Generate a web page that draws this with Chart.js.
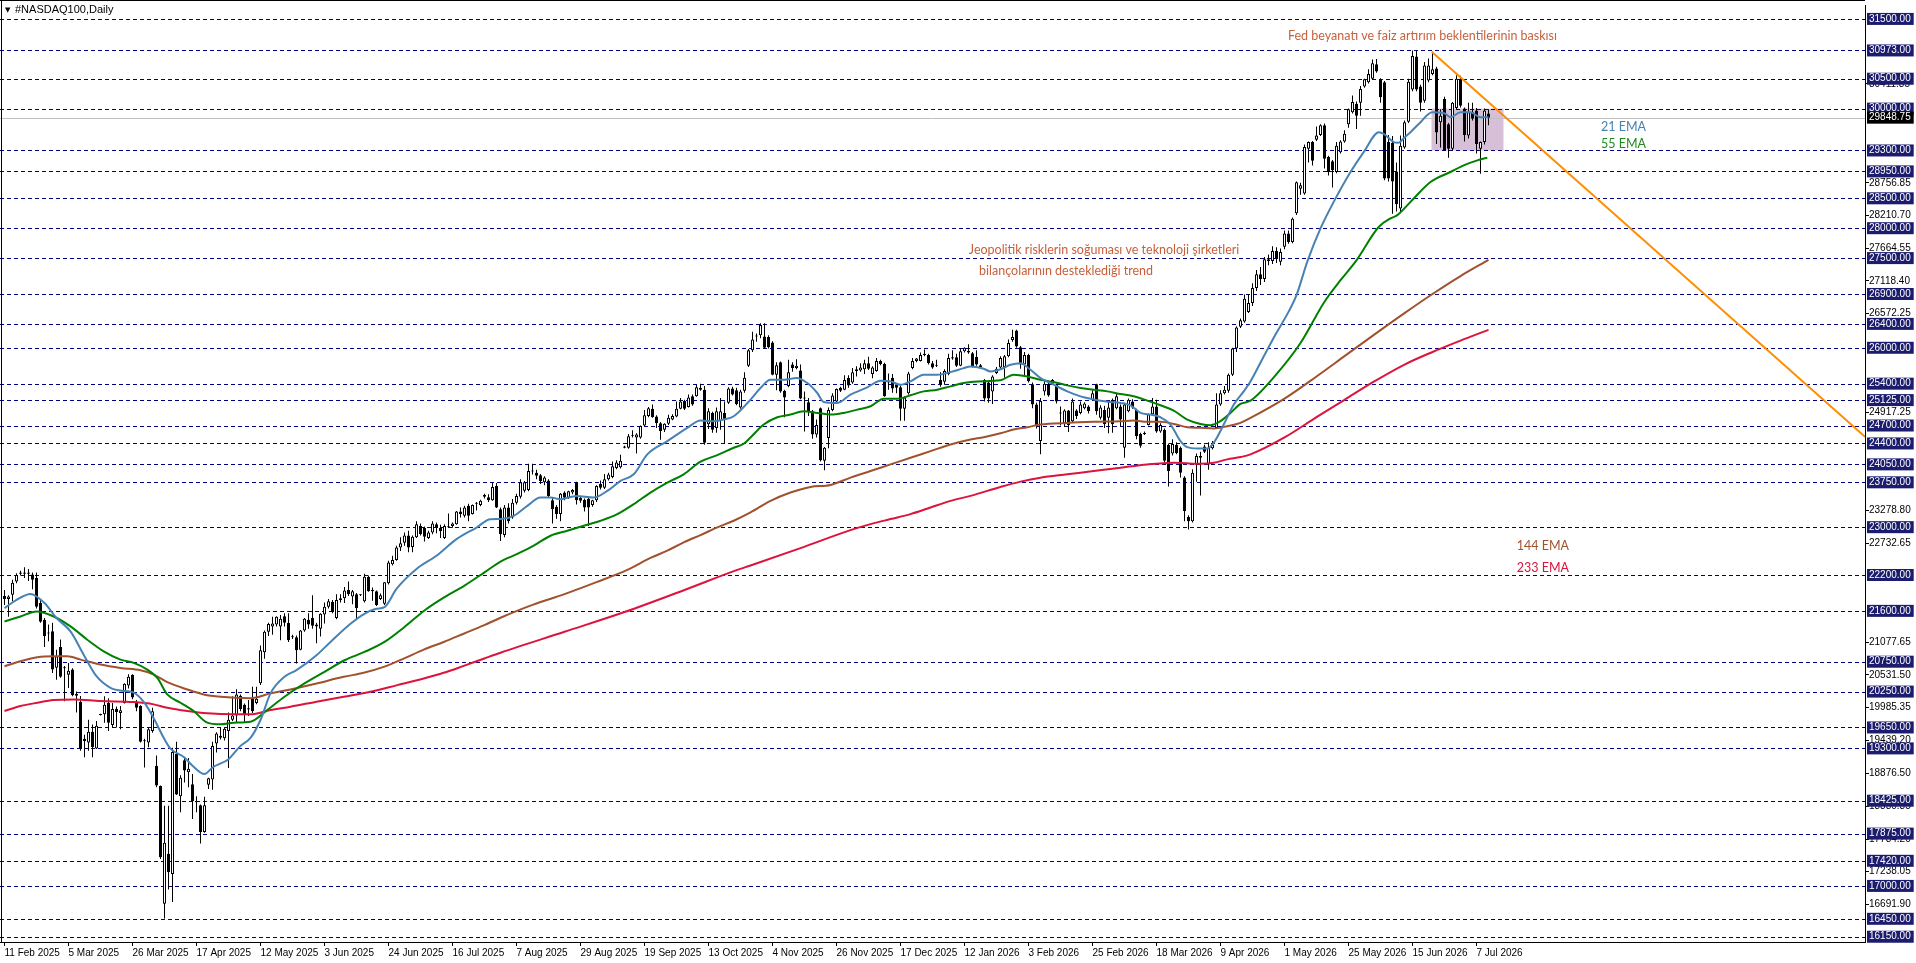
<!DOCTYPE html>
<html>
<head>
<meta charset="utf-8">
<title>#NASDAQ100,Daily</title>
<script src="https://cdn.jsdelivr.net/npm/chart.js@4.4.1/dist/chart.umd.min.js"></script>
<style>
  html, body { margin: 0; padding: 0; background: #fff; overflow: hidden; }
  #wrap { width: 1916px; height: 963px; position: relative; }
</style>
</head>
<body>
<div id="wrap"><canvas id="chart"></canvas></div>
<script>
// daily candles, bar 0 = 11 Feb 2025
const opens = [
  21850, 21800, 21870, 22090, 22220, 22240, 22220, 22210, 22150, 21730,
  21450, 21220, 21260, 20650, 20995, 20650, 20530, 20620, 20210, 20080,
  19460, 19400, 19580, 19300, 19860, 19870, 20060, 19690, 19960, 19890,
  20060, 20350, 20530, 20060, 20010, 19420, 19400, 19590, 19010, 18670,
  16700, 17540, 17200, 19210, 18500, 19100, 18900, 18700, 18420, 18350,
  17900, 18690, 18780, 19380, 19510, 19470, 19590, 19780, 19850, 20180,
  20030, 19950, 20140, 20060, 20390, 20910, 21250, 21340, 21370, 21340,
  21510, 21400, 21160, 21160, 20950, 21270, 21450, 21480, 21340, 21300,
  21540, 21670, 21750, 21480, 21780, 21810, 21950, 21840, 21880, 21860,
  21760, 22170, 21950, 21930, 21800, 21720, 22060, 22380, 22450, 22660,
  22740, 22860, 22670, 22830, 23020, 22990, 22820, 22910, 23050, 22990,
  22820, 23000, 23020, 23050, 23260, 23190, 23360, 23220, 23390, 23370,
  23540, 23500, 23450, 23690, 23300, 22870, 23330, 23160, 23410, 23510,
  23610, 23620, 23930, 23910, 23870, 23750, 23780, 23450, 23340, 23220,
  23580, 23490, 23580, 23740, 23490, 23460, 23470, 23370, 23450, 23720,
  23660, 23800, 23840, 23990, 24000, 24330, 24330, 24520, 24500, 24500,
  24700, 24860, 24980, 24850, 24740, 24630, 24730, 24800, 24850, 24980,
  25110, 25010, 25190, 25190, 25300, 25300, 24720, 24910, 24660, 24770,
  24910, 25080, 25320, 25290, 25000, 25280, 25700, 25960, 26200, 26210,
  26190, 26180, 26090, 25550, 25760, 25280, 25360, 25720, 25660, 25620,
  25150, 25090, 24940, 24550, 24990, 24110, 24490, 24960, 25100, 25330,
  25300, 25500, 25420, 25610, 25620, 25640, 25740, 25560, 25610, 25780,
  25730, 25440, 25500, 25390, 25340, 24980, 25240, 25660, 25780, 25780,
  25880, 25880, 25740, 25700, 25460, 25430, 25560, 25820, 25840, 25700,
  25940, 25950, 25910, 25850, 25680, 25460, 25420, 25270, 25580, 25670,
  25680, 25860, 26130, 26290, 26010, 25720, 25880, 25390, 25050, 24440,
  25270, 25400, 25400, 25380, 24900, 24740, 24950, 24770, 24950, 24910,
  24990, 25020, 25130, 25390, 24830, 24960, 24830, 25130, 24990, 25020,
  24330, 24940, 25100, 24960, 24560, 24560, 24710, 24890, 25020, 24600,
  24630, 24380, 24230, 24380, 24330, 23830, 23170, 23100, 24050, 24160,
  24350, 24050, 24320, 24660, 25050, 25240, 25280, 25550, 25990, 26350,
  26440, 26600, 26750, 27000, 27230, 27150, 27480, 27450, 27620, 27440,
  27690, 27910, 27770, 28250, 28660, 28580, 29330, 29440, 29480, 29560,
  29720, 29190, 29120, 28940, 29270, 29450, 29740, 29940, 30080, 30100,
  30370, 30440, 30500, 30740, 30490, 30440, 29440, 29430, 28950, 28330,
  29350, 29780, 30320, 30870, 30370, 30130, 30470, 30580, 30670, 29770,
  30160, 29740, 29330, 30010, 30500, 30000, 29550, 29940, 29970, 29330,
  29440, 29920
];
const highs = [
  21950, 21860, 22120, 22230, 22270, 22330, 22300, 22240, 22240, 21800,
  21480, 21370, 21400, 20950, 21120, 20680, 20730, 20640, 20250, 20175,
  19530, 19780, 19700, 19760, 19880, 20170, 20140, 20060, 20000, 20010,
  20390, 20540, 20540, 20110, 20020, 19460, 19650, 19980, 19180, 18680,
  18340, 18340, 19310, 19410, 18850, 19150, 19140, 18870, 18500, 18360,
  18490, 18810, 19410, 19570, 19650, 19640, 19900, 20170, 20290, 20200,
  20050, 20110, 20330, 20330, 21020, 21270, 21400, 21500, 21510, 21530,
  21560, 21560, 21200, 21190, 21280, 21480, 21560, 21860, 21400, 21560,
  21740, 21800, 21780, 21880, 21880, 22000, 22090, 21950, 21900, 21880,
  22220, 22190, 21990, 21940, 21890, 22080, 22440, 22520, 22690, 22830,
  22910, 22940, 22860, 23100, 23060, 23010, 22940, 23100, 23080, 23040,
  23050, 23230, 23080, 23270, 23330, 23360, 23390, 23380, 23420, 23460,
  23560, 23550, 23740, 23740, 23330, 23370, 23400, 23470, 23560, 23800,
  23770, 24060, 24060, 23960, 23890, 23850, 23800, 23500, 23370, 23570,
  23600, 23610, 23640, 23760, 23510, 23480, 23490, 23460, 23700, 23780,
  23890, 23910, 24100, 24120, 24210, 24360, 24560, 24620, 24570, 24700,
  24960, 25010, 25050, 24870, 24760, 24740, 24880, 24890, 25100, 25160,
  25130, 25220, 25220, 25380, 25400, 25360, 24990, 24930, 25000, 25160,
  25100, 25340, 25350, 25330, 25300, 25590, 25980, 26270, 26240, 26410,
  26410, 26210, 26110, 25760, 25770, 25300, 25800, 25760, 25810, 25720,
  25270, 25160, 24960, 24800, 25000, 24340, 25000, 25240, 25320, 25350,
  25540, 25540, 25660, 25690, 25740, 25800, 25850, 25690, 25830, 25800,
  25750, 25570, 25560, 25410, 25370, 25190, 25600, 25830, 25830, 25920,
  25970, 25900, 25780, 25800, 25590, 25640, 25900, 25960, 25900, 25990,
  26010, 26060, 25930, 25960, 25730, 25480, 25440, 25540, 25680, 25860,
  25880, 26140, 26300, 26300, 26030, 25930, 25900, 25420, 25080, 25160,
  25440, 25420, 25480, 25400, 25020, 24970, 24960, 25150, 24970, 25100,
  25090, 25040, 25290, 25400, 25040, 25030, 25100, 25150, 25250, 25050,
  25080, 25150, 25140, 24980, 24580, 24600, 24900, 25160, 25130, 24740,
  24650, 24400, 24470, 24420, 24350, 23850, 23200, 23970, 24230, 24260,
  24380, 24420, 24440, 25240, 25290, 25360, 25570, 26000, 26360, 26490,
  26890, 26900, 27080, 27300, 27350, 27520, 27560, 27700, 27680, 27660,
  27960, 27960, 28180, 28780, 28760, 29400, 29450, 29460, 29700, 29740,
  29750, 29210, 29140, 29440, 29470, 29640, 30000, 30220, 30120, 30380,
  30500, 30660, 30820, 30830, 30510, 30460, 29560, 29540, 29100, 29550,
  29800, 30500, 30970, 30970, 30400, 30780, 30840, 30950, 30700, 29990,
  30200, 29760, 30110, 30560, 30550, 30020, 30100, 30100, 30010, 29450,
  30000, 29990
];
const lows = [
  21700, 21500, 21760, 22060, 22190, 22150, 22100, 21960, 21640, 21400,
  20995, 21090, 20560, 20450, 20480, 20090, 20310, 20170, 19900, 19260,
  19150, 19260, 19150, 19290, 19850, 19730, 19590, 19650, 19650, 19620,
  20050, 20300, 20120, 19920, 19400, 18980, 19320, 19560, 18650, 17450,
  16455, 16940, 16730, 18520, 18230, 18730, 18650, 18120, 18230, 17710,
  17890, 18620, 18610, 19230, 19450, 19430, 18970, 19760, 19730, 19920,
  19730, 19840, 19890, 20040, 20360, 20800, 21180, 21200, 21340, 21110,
  21340, 21080, 21130, 20720, 20940, 21250, 21300, 21300, 21060, 21170,
  21390, 21640, 21560, 21460, 21740, 21730, 21850, 21710, 21470, 21850,
  21740, 21920, 21770, 21680, 21780, 21700, 22040, 22360, 22440, 22600,
  22690, 22580, 22580, 22820, 22860, 22760, 22800, 22880, 22900, 22820,
  22800, 22990, 22990, 23040, 23160, 23160, 23100, 23210, 23280, 23350,
  23480, 23420, 23440, 23320, 22770, 22830, 23060, 23140, 23380, 23480,
  23580, 23600, 23880, 23800, 23720, 23700, 23500, 23060, 23140, 23100,
  23450, 23470, 23550, 23380, 23410, 23260, 23020, 23340, 23420, 23630,
  23640, 23780, 23820, 23970, 23980, 24320, 24310, 24500, 24230, 24480,
  24690, 24840, 24830, 24660, 24460, 24590, 24710, 24790, 24840, 24970,
  24960, 25000, 25030, 25180, 25280, 24380, 24640, 24580, 24580, 24630,
  24400, 25060, 25200, 25040, 24980, 25250, 25680, 25930, 26100, 26160,
  25990, 25990, 25540, 25290, 25250, 24840, 25340, 25600, 25640, 25140,
  24600, 24860, 24480, 24500, 24100, 23950, 24320, 24940, 25080, 25260,
  25290, 25330, 25400, 25520, 25600, 25560, 25630, 25490, 25600, 25710,
  25180, 25300, 25250, 25240, 24780, 24780, 25220, 25640, 25760, 25770,
  25860, 25720, 25650, 25680, 25350, 25380, 25540, 25800, 25680, 25690,
  25920, 25900, 25670, 25700, 25660, 25100, 25080, 25060, 25560, 25650,
  25500, 25840, 26100, 26000, 25650, 25520, 25420, 24990, 24650, 24220,
  25200, 25180, 25380, 25070, 24700, 24680, 24590, 24750, 24810, 24890,
  24970, 24900, 25110, 24880, 24800, 24660, 24570, 24580, 24970, 24690,
  24160, 24920, 24980, 24470, 24330, 24540, 24700, 24870, 24580, 24580,
  24040, 23680, 24200, 24220, 23830, 23100, 22960, 23080, 23760, 23530,
  24240, 23960, 24300, 24640, 25030, 25220, 25250, 25530, 25930, 26330,
  26420, 26580, 26700, 26950, 27050, 27100, 27380, 27400, 27420, 27380,
  27650, 27740, 27750, 28220, 28560, 28560, 29100, 29050, 29460, 29540,
  29000, 28880, 28680, 28920, 29250, 29430, 29680, 29920, 29660, 29880,
  30350, 30420, 30480, 30600, 30100, 28800, 28780, 28240, 28280, 28270,
  29330, 29760, 30290, 30290, 29950, 30100, 30440, 30560, 29410, 29350,
  29290, 29180, 29300, 29990, 30020, 29450, 29500, 29800, 29250, 28910,
  29400, 29720
];
const closes = [
  21800, 21840, 22070, 22200, 22240, 22220, 22240, 22120, 21670, 21420,
  21180, 21240, 20620, 20840, 20500, 20640, 20600, 20190, 20180, 19290,
  19420, 19580, 19320, 19680, 19870, 20030, 19730, 19960, 19910, 19940,
  20380, 20500, 20150, 19980, 19410, 19430, 19620, 19920, 18680, 17480,
  17720, 17230, 19240, 18530, 18810, 18930, 18960, 18420, 18400, 17900,
  18350, 18800, 19340, 19550, 19480, 19630, 19780, 19850, 20200, 19960,
  19870, 19970, 19920, 20130, 20940, 21250, 21380, 21390, 21500, 21470,
  21400, 21110, 21170, 20940, 21270, 21470, 21370, 21350, 21370, 21550,
  21670, 21760, 21580, 21780, 21810, 21940, 21880, 21930, 21650, 21870,
  22170, 21930, 21930, 21700, 21860, 22080, 22410, 22450, 22660, 22730,
  22860, 22660, 22840, 23050, 22880, 22840, 22910, 23060, 22990, 22930,
  23020, 23010, 23060, 23260, 23220, 23330, 23190, 23370, 23400, 23440,
  23510, 23450, 23670, 23330, 22880, 23330, 23100, 23410, 23520, 23750,
  23750, 23940, 23940, 23860, 23770, 23830, 23520, 23300, 23220, 23560,
  23490, 23600, 23620, 23450, 23440, 23330, 23330, 23450, 23690, 23660,
  23800, 23880, 24020, 24080, 24110, 24350, 24520, 24530, 24550, 24690,
  24870, 24990, 24840, 24740, 24610, 24730, 24830, 24860, 24980, 25100,
  24980, 25170, 25050, 25340, 25330, 24410, 24940, 24630, 24940, 24940,
  24800, 25320, 25220, 25060, 25270, 25500, 25960, 26140, 26190, 26380,
  26000, 26010, 25550, 25710, 25270, 25170, 25590, 25660, 25700, 25150,
  25160, 24940, 24550, 24710, 24120, 24330, 24960, 25200, 25310, 25280,
  25460, 25370, 25590, 25640, 25670, 25740, 25650, 25670, 25780, 25730,
  25190, 25420, 25320, 25330, 24980, 25170, 25570, 25780, 25820, 25880,
  25900, 25740, 25670, 25700, 25390, 25610, 25830, 25840, 25700, 25940,
  26000, 25920, 25690, 25720, 25710, 25150, 25150, 25520, 25650, 25830,
  25860, 26080, 26180, 26020, 25720, 25880, 25440, 25050, 24690, 25110,
  25400, 25200, 25460, 25100, 24910, 24950, 24710, 25100, 24860, 25050,
  25070, 24940, 25240, 24940, 25000, 24720, 25000, 24720, 25190, 24800,
  25050, 25130, 25000, 24520, 24360, 24560, 24890, 25020, 24600, 24710,
  24110, 23940, 24390, 24240, 23910, 23270, 23100, 23910, 24190, 24190,
  24260, 24330, 24380, 25050, 25240, 25300, 25550, 25990, 26340, 26460,
  26820, 26750, 27000, 27230, 27150, 27480, 27450, 27620, 27500, 27600,
  27910, 27770, 28160, 28770, 28720, 29360, 29440, 29130, 29550, 29720,
  29160, 28940, 28970, 29380, 29450, 29580, 29990, 30110, 29880, 30330,
  30490, 30580, 30760, 30620, 30190, 28830, 28830, 28780, 28400, 29380,
  29770, 30450, 30880, 30320, 30100, 30720, 30720, 30660, 29600, 29880,
  29300, 29330, 30100, 30500, 30050, 29560, 29940, 29830, 29410, 29440,
  29970, 29848.75
];

// time axis labels, one every 16 bars
const dateLabels = ["11 Feb 2025", "5 Mar 2025", "26 Mar 2025", "17 Apr 2025", "12 May 2025", "3 Jun 2025",
  "24 Jun 2025", "16 Jul 2025", "7 Aug 2025", "29 Aug 2025", "19 Sep 2025", "13 Oct 2025", "4 Nov 2025",
  "26 Nov 2025", "17 Dec 2025", "12 Jan 2026", "3 Feb 2026", "25 Feb 2026", "18 Mar 2026", "9 Apr 2026",
  "1 May 2026", "25 May 2026", "15 Jun 2026", "7 Jul 2026"];
const labelStep = 16;

// horizontal levels (boxed on the price scale) and plain price scale labels
const levelPrices = [31500, 30973, 30500, 30000, 29300, 28950, 28500, 28000, 27500, 26900, 26400, 26000,
  25400, 25125, 24700, 24400, 24050, 23750, 23000, 22200, 21600, 20750, 20250, 19650, 19300, 18425,
  17875, 17420, 17000, 16450, 16150];
const scaleLabels = [30411.85, 28756.85, 28210.70, 27664.55, 27118.40, 26572.25, 24917.25, 23278.80,
  22732.65, 21077.65, 20531.50, 19985.35, 19439.20, 18876.50, 18330.35, 17784.20, 17238.05, 16691.90];
const lastPrice = 29848.75;

// moving averages: [bar, value]
const ema21 = [[0,21645],[3,21784],[6.5,21884],[10,21730],[13,21480],[16.5,21257],[20,20840],[23,20507],
  [26.5,20313],[30,20258],[32,20240],[35,20063],[37,19840],[40,19452],[41.5,19297],[45,19147],[47,19009],
  [50,18870],[52,18981],[56,19120],[59,19342],[61.5,19475],[64,19775],[66.5,20220],[70,20497],[73,20608],
  [78,20858],[81.5,21080],[86.5,21385],[90,21551],[93,21635],[95,21662],[98,21968],[103,22300],[108,22523],
  [113,22800],[118,22994],[121.5,23133],[124,23135],[127.3,23190],[130.7,23357],[134,23495],[136.5,23495],
  [139,23468],[143,23523],[147.3,23495],[150.7,23606],[154,23773],[157.3,23884],[160.7,24217],[165.7,24439],
  [170.7,24661],[174,24783],[177.3,24772],[179.8,24800],[182.3,24855],[186.5,25133],[189,25327],[191.5,25466],
  [195,25466],[198,25494],[200.7,25410],[203.2,25244],[204.8,25094],[208.2,25077],[211.5,25216],[215.7,25338],
  [219,25449],[221.5,25438],[224,25382],[226.5,25438],[229.8,25549],[233.2,25549],[236.5,25593],[239.8,25660],
  [241.5,25688],[244.8,25649],[246.5,25605],[249,25640],[251.5,25715],[254,25743],[256.5,25632],[259,25494],
  [262.3,25383],[265.7,25271],[269,25188],[271.5,25149],[274,25116],[276.5,25094],[279,25077],[281.5,25038],
  [284,24911],[286.5,24883],[289,24838],[291.5,24716],[294,24439],[295.7,24339],[298.2,24317],[300.7,24317],
  [302.3,24411],[304.8,24716],[307.3,25049],[309.8,25271],[311.5,25438],[315,25880],[318,26250],[321,26600],
  [323,26880],[325.7,27441],[329,27996],[332.3,28440],[336.5,28940],[339.8,29273],[343.6,29606],[344.8,29578],
  [347.3,29440],[348.5,29428],[349.8,29506],[351.5,29606],[354,29773],[356.9,29940],[359.8,29928],[361.5,29856],
  [364,29940],[366.5,29940],[369,29856],[371,29856]];
const ema55 = [[0,21423],[4,21506],[8,21590],[12.3,21506],[16.5,21340],[20.7,21118],[24.8,20924],[29,20785],
  [32.3,20730],[35.7,20618],[38.2,20480],[40.7,20202],[44,20063],[47.3,19924],[50.7,19730],[54,19702],
  [57.3,19730],[61.5,19745],[65.7,19942],[70,20164],[75,20386],[80,20580],[85,20774],[90,20913],[95,21080],
  [100,21330],[105,21607],[110,21829],[115,22023],[120,22245],[124,22425],[128.2,22552],[132.3,22690],
  [136.5,22857],[140.7,22940],[144.8,23024],[149,23107],[153.2,23218],[157.3,23384],[161.5,23579],[165.7,23745],
  [169.8,23884],[174,24095],[178.2,24206],[182.3,24328],[184.8,24395],[186.5,24500],[189.8,24716],[193.2,24838],
  [196.5,24883],[199.8,24938],[203.2,24911],[206.5,24883],[209.8,24911],[213.2,24966],[216.5,25022],[219.8,25149],
  [223.2,25149],[226.5,25205],[229.8,25271],[233.2,25299],[236.5,25355],[239.8,25410],[243.2,25438],[249,25458],
  [252.3,25549],[255.7,25521],[259,25466],[262.3,25427],[265.7,25371],[269,25327],[272.3,25299],[275.7,25271],
  [279,25227],[282.3,25188],[285.7,25116],[289,25038],[292.3,24949],[295.7,24800],[299,24727],[301.5,24705],
  [304,24772],[306.5,24911],[309,25061],[311.5,25116],[318,25560],[324,26080],[330,26770],[334,27130],
  [337.75,27441],[343.6,28024],[346.5,28163],[348.2,28218],[351.5,28440],[356.5,28773],[361.5,28940],
  [364.8,29051],[368.2,29134],[370.7,29179]];
const ema144 = [[0,20674],[4,20757],[8.2,20824],[12.3,20840],[15.7,20840],[19,20785],[24,20702],[29,20646],
  [34,20607],[37.3,20535],[40.7,20408],[45.7,20286],[49.8,20202],[54,20163],[61.5,20140],[66.5,20220],
  [71.5,20286],[78,20386],[84.8,20497],[89.8,20564],[94.8,20663],[99.8,20802],[104.8,20952],[109.8,21080],
  [114.8,21218],[119.8,21357],[124,21485],[132,21700],[140,21880],[148,22080],[155.7,22285],[161.5,22485],
  [165.7,22607],[169.8,22746],[174,22868],[178.2,22996],[182.3,23107],[186.5,23246],[191.5,23440],[196.5,23579],
  [201.5,23673],[206.5,23706],[211.5,23828],[216.5,23939],[221.5,24050],[226.5,24161],[231.5,24272],
  [236.5,24383],[241.5,24467],[244.8,24505],[249,24570],[252.3,24633],[255.7,24672],[259,24716],[265.7,24744],
  [272.3,24761],[279,24772],[282.3,24783],[285.7,24761],[289,24761],[292.3,24727],[295.7,24672],[299,24661],
  [302.3,24650],[305.7,24689],[309,24744],[311.5,24827],[320,25150],[328,25520],[335,25860],[342,26200],
  [350,26580],[357,26900],[364,27200],[371,27470]];
const ema233 = [[0,19925],[4,20008],[8.2,20063],[12.3,20108],[17.3,20119],[24,20091],[32.3,20074],[37.3,20036],
  [40.7,19980],[45.7,19925],[50.7,19886],[57.3,19869],[61.5,19869],[66.5,19942],[71.5,19997],[78,20081],
  [84.8,20164],[91.5,20247],[98.2,20358],[104.8,20469],[109.8,20564],[114.8,20680],[119.8,20800],[124,20900],
  [140,21250],[155,21580],[170,21950],[183.2,22285],[186.5,22358],[199,22650],[211.5,22951],[216.5,23051],
  [221.5,23135],[226.5,23218],[231.5,23329],[236.5,23440],[241.5,23523],[249,23673],[254,23762],[259,23828],
  [265.7,23884],[272.3,23939],[279,23995],[285.7,24050],[292.3,24078],[295.7,24067],[299,24061],[302.3,24078],
  [305.7,24134],[309,24172],[311.5,24217],[320,24500],[328,24840],[335,25130],[342,25420],[350,25720],
  [357,25930],[364,26120],[371,26300]];

// drawn objects: [bar, price]
const trendLine = [[356.8, 30950], [465.125, 24510]];
const rangeBoxBars = [356.75, 374.75];
const rangeBoxPrices = [30000, 29300];
const noteTexts = ["Fed beyanatı ve faiz artırım beklentilerinin baskısı",
  "Jeopolitik risklerin soğuması ve teknoloji şirketleri", "bilançolarının desteklediği trend",
  "21 EMA", "55 EMA", "144 EMA", "233 EMA"];
const noteBars = [354.5, 274.9, 265.4, 404.75, 404.75, 384.6, 384.6];
const notePrices = [31217, 27636, 27287, 29685, 29402, 22690, 22324];
const noteColors = ["#c8603c", "#c8603c", "#c8603c", "#4682b4", "#1f8b1f", "#a0522d", "#dc143c"];

const axisFont = "'Liberation Sans', Arial, sans-serif";
const levelSet = new Set(levelPrices);

function pts(list) { return list.map(p => ({ x: p[0], y: p[1] })); }
function emaSet(label, list, color) {
  return { type: 'line', label, data: pts(list), borderColor: color, borderWidth: 2, pointRadius: 0,
    cubicInterpolationMode: 'monotone', order: 0 };
}
function boxed(c) { return c.tick && (levelSet.has(c.tick.value) || c.tick.value === lastPrice); }

const overlay = {
  id: 'overlay',
  beforeDatasetsDraw(chart) {
    const { ctx, chartArea: a, scales: { x, y } } = chart;
    ctx.save();
    ctx.beginPath();
    ctx.rect(a.left, a.top, a.right - a.left, a.bottom - a.top);
    ctx.clip();
    // range box
    const bx0 = x.getPixelForValue(rangeBoxBars[0]), bx1 = x.getPixelForValue(rangeBoxBars[1]);
    const by0 = y.getPixelForValue(rangeBoxPrices[0]), by1 = y.getPixelForValue(rangeBoxPrices[1]);
    ctx.fillStyle = '#d8bfd8';
    ctx.fillRect(bx0, by0, bx1 - bx0, by1 - by0);
    // level lines
    ctx.strokeStyle = '#000080';
    ctx.lineWidth = 1;
    ctx.setLineDash([4, 3]);
    levelPrices.forEach(p => {
      const py = Math.round(y.getPixelForValue(p)) + 0.5;
      ctx.beginPath(); ctx.moveTo(a.left, py); ctx.lineTo(a.right, py); ctx.stroke();
    });
    ctx.setLineDash([]);
    // last price line
    const ly = Math.round(y.getPixelForValue(lastPrice)) + 0.5;
    ctx.strokeStyle = '#c0c0c0';
    ctx.beginPath(); ctx.moveTo(a.left, ly); ctx.lineTo(a.right, ly); ctx.stroke();
    ctx.restore();
  },
  afterDatasetsDraw(chart) {
    const { ctx, chartArea: a, scales: { x, y } } = chart;
    ctx.save();
    ctx.textAlign = 'center';
    ctx.textBaseline = 'middle';
    ctx.font = "12.5px Lato, 'Open Sans', sans-serif";
    noteTexts.forEach((t, i) => {
      ctx.fillStyle = noteColors[i];
      ctx.fillText(t, x.getPixelForValue(noteBars[i]), y.getPixelForValue(notePrices[i]));
    });
    // header
    ctx.textAlign = 'left';
    ctx.fillStyle = '#000';
    ctx.font = "7px 'DejaVu Sans'";
    ctx.fillText('▼', 5, 10);
    ctx.font = "11px " + axisFont;
    ctx.fillText('#NASDAQ100,Daily', 15, 10);
    // frame
    ctx.fillRect(a.left, 0, a.right - a.left, 1);
    ctx.fillRect(1, 0, 1, a.bottom);
    ctx.restore();
  }
};

new Chart(document.getElementById('chart'), {
  type: 'bar',
  data: {
    datasets: [
      emaSet('21 EMA', ema21, '#4682b4'),
      emaSet('55 EMA', ema55, '#008000'),
      emaSet('144 EMA', ema144, '#a0522d'),
      emaSet('233 EMA', ema233, '#dc143c'),
      { type: 'line', label: 'trend', data: pts(trendLine), borderColor: '#ff8c00', borderWidth: 2,
        pointRadius: 0, order: 0 },
      { type: 'bar', label: 'bodies', data: opens.map((o, i) => ({ x: i, y: [o, closes[i]] })),
        backgroundColor: c => (c.raw && c.raw.y[1] >= c.raw.y[0]) ? '#ffffff' : '#000000',
        borderColor: '#000', borderWidth: 1, borderSkipped: false, barThickness: 3, grouped: false,
        minBarLength: 1, inflateAmount: 0, order: 1 },
      { type: 'bar', label: 'wicks', data: lows.map((l, i) => ({ x: i, y: [l, highs[i]] })),
        backgroundColor: '#000', borderWidth: 0, barThickness: 1, grouped: false, minBarLength: 1,
        inflateAmount: 0, order: 2 }
    ]
  },
  options: {
    responsive: true,
    maintainAspectRatio: false,
    devicePixelRatio: 1,
    animation: false,
    events: [],
    layout: { autoPadding: false, padding: { top: 1, left: 0, right: 0, bottom: 0 } },
    plugins: { legend: { display: false }, tooltip: { enabled: false } },
    scales: {
      x: {
        type: 'linear', min: -1.125, max: 465.125, offset: false,
        afterFit: s => { s.height = 21; },
        afterBuildTicks: s => { s.ticks = dateLabels.map((_, k) => ({ value: k * labelStep })); },
        border: { display: true, color: '#000', width: 1 },
        grid: { drawOnChartArea: false, offset: false, tickLength: 4, color: '#000' },
        ticks: { autoSkip: false, maxRotation: 0, minRotation: 0, align: 'start', padding: 1, color: '#000',
          font: { family: axisFont, size: 10 }, callback: (v, i) => dateLabels[i] }
      },
      y: {
        type: 'linear', position: 'right', min: 16062, max: 31733,
        afterFit: s => { s.width = 51; },
        afterBuildTicks: s => { s.ticks = scaleLabels.concat(levelPrices, [lastPrice]).map(v => ({ value: v })); },
        border: { display: true, color: '#000', width: 1 },
        grid: {
          drawOnChartArea: false, tickLength: 4,
          color: c => boxed(c) ? 'rgba(0,0,0,0)' : '#000'
        },
        ticks: {
          autoSkip: false, padding: 0, crossAlign: 'near',
          font: { family: axisFont, size: 10, lineHeight: 1 },
          callback: v => Number(v).toFixed(2),
          color: c => boxed(c) ? '#fff' : '#000',
          showLabelBackdrop: true,
          backdropColor: c => {
            if (!c.tick) return 'rgba(0,0,0,0)';
            if (c.tick.value === lastPrice) return '#000';
            return levelSet.has(c.tick.value) ? '#1c1c6e' : 'rgba(0,0,0,0)';
          },
          backdropPadding: { top: 1, bottom: 1, left: 2, right: 3 }
        }
      }
    }
  },
  plugins: [overlay]
});
</script>
</body>
</html>
